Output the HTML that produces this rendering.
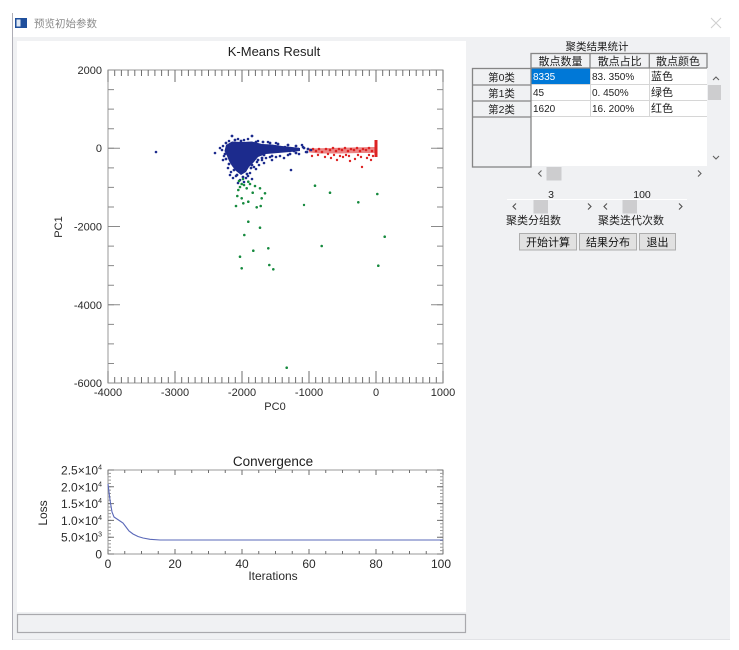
<!DOCTYPE html>
<html><head><meta charset="utf-8">
<style>
html,body{margin:0;padding:0;background:#fff;}
body{width:739px;height:650px;overflow:hidden;position:relative;}
svg{position:absolute;left:0;top:0;}
text{font-family:"Liberation Sans","Noto Sans CJK SC",sans-serif;}
</style></head>
<body>
<svg width="739" height="650" viewBox="0 0 739 650" xmlns="http://www.w3.org/2000/svg">
<!-- window chrome -->
<rect x="0" y="0" width="739" height="650" fill="#fff"/>
<rect x="13" y="37" width="717" height="603" fill="#f0f1f3"/>
<line x1="12.5" y1="13" x2="12.5" y2="640" stroke="#aeaeb6" stroke-width="1"/>
<line x1="13" y1="639.5" x2="730" y2="639.5" stroke="#e2e3e6" stroke-width="1"/>
<!-- icon -->
<rect x="15" y="18" width="12" height="10" fill="#1f4f9c"/>
<rect x="16.5" y="19.5" width="4" height="7" fill="#dfe8f5"/>
<text x="34" y="27" font-size="10.5" fill="#8c8c8c">预览初始参数</text>
<path d="M711,18 L721,28 M721,18 L711,28" stroke="#cfcfcf" stroke-width="1"/>

<!-- white plot panel -->
<rect x="17" y="41" width="449" height="571" fill="#fff"/>
<!-- status bar -->
<rect x="17.5" y="614.5" width="448" height="18" fill="#f0f1f3" stroke="#a9a9ad" stroke-width="1.2"/>

<!-- ===== K-Means scatter chart ===== -->
<text x="274" y="56" font-size="13" text-anchor="middle" fill="#1e1e1e">K-Means Result</text>
<rect x="108" y="70" width="335" height="313" fill="none" stroke="#9a9a9a" stroke-width="1"/>
<g stroke="#6e6e6e" fill="none">
<line x1="107.5" y1="73" x2="443.5" y2="73" stroke-width="6" stroke-dasharray="1 5.7"/>
<line x1="107.5" y1="380" x2="443.5" y2="380" stroke-width="6" stroke-dasharray="1 5.7"/>
<line x1="107.5" y1="76" x2="443.5" y2="76" stroke-width="12" stroke-dasharray="1 66"/>
<line x1="107.5" y1="377" x2="443.5" y2="377" stroke-width="12" stroke-dasharray="1 66"/>
</g>
<g stroke="#8a8a8a" fill="none">
<line x1="111" y1="69.5" x2="111" y2="383.5" stroke-width="6" stroke-dasharray="1 18.5625"/>
<line x1="440" y1="69.5" x2="440" y2="383.5" stroke-width="6" stroke-dasharray="1 18.5625"/>
<line x1="114" y1="69.5" x2="114" y2="383.5" stroke-width="12" stroke-dasharray="1 77.25"/>
<line x1="437" y1="69.5" x2="437" y2="383.5" stroke-width="12" stroke-dasharray="1 77.25"/>
</g>
<g font-size="11" fill="#2a2a2a" text-anchor="end">
<text x="102" y="74">2000</text>
<text x="102" y="152">0</text>
<text x="102" y="230.5">-2000</text>
<text x="102" y="309">-4000</text>
<text x="102" y="387">-6000</text>
</g>
<g font-size="11" fill="#2a2a2a" text-anchor="middle">
<text x="108" y="396">-4000</text>
<text x="175" y="396">-3000</text>
<text x="242" y="396">-2000</text>
<text x="309" y="396">-1000</text>
<text x="376" y="396">0</text>
<text x="443" y="396">1000</text>
<text x="275" y="410">PC0</text>
<text x="0" y="0" transform="translate(62,227) rotate(-90)">PC1</text>
</g>

<!-- red cluster -->
<g fill="#dd2222">
<path d="M309,148.5 L330,148 L350,147.5 L372,147 L377,147 L377,153 L360,153 L340,153.5 L320,153.5 L309,152.5 Z" opacity="0.55"/>
<rect x="374.5" y="140" width="3" height="17"/>
<circle cx="310" cy="150" r="1.3"/><circle cx="313" cy="149" r="1.3"/><circle cx="316" cy="151" r="1.3"/>
<circle cx="319" cy="149" r="1.3"/><circle cx="322" cy="152" r="1.3"/><circle cx="326" cy="149" r="1.3"/>
<circle cx="330" cy="150" r="1.3"/><circle cx="333" cy="148" r="1.3"/><circle cx="336" cy="151" r="1.3"/>
<circle cx="339" cy="149" r="1.3"/><circle cx="342" cy="150" r="1.3"/><circle cx="345" cy="148" r="1.3"/>
<circle cx="348" cy="151" r="1.3"/><circle cx="351" cy="149" r="1.3"/><circle cx="354" cy="150" r="1.3"/>
<circle cx="357" cy="148" r="1.3"/><circle cx="360" cy="151" r="1.3"/><circle cx="363" cy="149" r="1.3"/>
<circle cx="366" cy="150" r="1.3"/><circle cx="369" cy="148" r="1.3"/><circle cx="372" cy="151" r="1.3"/>
<circle cx="312" cy="156" r="1.2"/><circle cx="318" cy="155" r="1.2"/><circle cx="325" cy="157" r="1.2"/>
<circle cx="331" cy="158" r="1.2"/><circle cx="337" cy="160" r="1.2"/><circle cx="343" cy="157" r="1.2"/>
<circle cx="349" cy="156" r="1.2"/><circle cx="355" cy="159" r="1.2"/><circle cx="361" cy="157" r="1.2"/>
<circle cx="362" cy="167" r="1.2"/><circle cx="367" cy="158" r="1.2"/><circle cx="371" cy="160" r="1.2"/>
<circle cx="373" cy="156" r="1.2"/><circle cx="350" cy="161" r="1.2"/><circle cx="340" cy="156" r="1.2"/>
<circle cx="328" cy="154" r="1.2"/><circle cx="346" cy="155" r="1.2"/><circle cx="358" cy="155" r="1.2"/>
<circle cx="369" cy="155" r="1.2"/><circle cx="334" cy="155" r="1.2"/>
</g>
<!-- blue cluster -->
<g fill="#1c2b8d">
<path d="M226,145 L232,141.5 L242,142 L252,141.5 L262,144 L272,144.5 L282,146 L292,147 L300,148 L300,151 L290,152 L278,153 L266,154 L258,157 L254,162 L249,167 L246,172 L241,175 L236,171 L232,166 L229,161 L227,156 L224.5,151 Z"/>
<circle cx="232" cy="136" r="1.4"/><circle cx="252" cy="136" r="1.4"/><circle cx="238" cy="139" r="1.3"/>
<circle cx="244" cy="140" r="1.3"/><circle cx="229" cy="141" r="1.3"/><circle cx="258" cy="141" r="1.3"/>
<circle cx="248" cy="139" r="1.3"/><circle cx="215" cy="153" r="1.3"/><circle cx="156" cy="152" r="1.3"/>
<circle cx="222" cy="150" r="1.3"/><circle cx="223" cy="146" r="1.3"/><circle cx="224" cy="156" r="1.3"/>
<circle cx="223" cy="160" r="1.3"/><circle cx="228" cy="168" r="1.3"/><circle cx="231" cy="172" r="1.3"/>
<circle cx="236" cy="176" r="1.3"/><circle cx="240" cy="180" r="1.3"/><circle cx="244" cy="182" r="1.3"/>
<circle cx="238" cy="183" r="1.3"/><circle cx="246" cy="178" r="1.3"/><circle cx="250" cy="173" r="1.3"/>
<circle cx="254" cy="167" r="1.3"/><circle cx="257" cy="162" r="1.3"/><circle cx="262" cy="160" r="1.3"/>
<circle cx="266" cy="158" r="1.3"/><circle cx="270" cy="157" r="1.3"/><circle cx="256" cy="169" r="1.3"/>
<circle cx="248" cy="176" r="1.3"/><circle cx="233" cy="178" r="1.3"/><circle cx="264" cy="163" r="1.3"/>
<circle cx="272" cy="160" r="1.3"/><circle cx="291" cy="170" r="1.3"/><circle cx="285" cy="147" r="1.3"/>
<circle cx="290" cy="149" r="1.3"/><circle cx="303" cy="147" r="1.3"/><circle cx="306" cy="152" r="1.3"/>
<circle cx="299" cy="154" r="1.3"/><circle cx="280" cy="156" r="1.3"/><circle cx="284" cy="158" r="1.3"/>
<circle cx="288" cy="155" r="1.3"/><circle cx="302" cy="145" r="1.3"/><circle cx="276" cy="157" r="1.3"/>
<circle cx="268" cy="142" r="1.3"/><circle cx="276" cy="143" r="1.3"/>
<circle cx="226" cy="143" r="1.4"/><circle cx="235" cy="140" r="1.4"/><circle cx="241" cy="141" r="1.4"/>
<circle cx="256" cy="142" r="1.4"/><circle cx="263" cy="142" r="1.4"/><circle cx="270" cy="143" r="1.4"/>
<circle cx="278" cy="144" r="1.4"/><circle cx="288" cy="145" r="1.4"/><circle cx="296" cy="146" r="1.4"/>
<circle cx="304" cy="148" r="1.4"/><circle cx="308" cy="149" r="1.4"/><circle cx="307" cy="152" r="1.4"/>
<circle cx="296" cy="153" r="1.4"/><circle cx="290" cy="154" r="1.4"/><circle cx="272" cy="156" r="1.4"/>
<circle cx="262" cy="158" r="1.4"/><circle cx="258" cy="160" r="1.4"/><circle cx="252" cy="165" r="1.4"/>
<circle cx="251" cy="168" r="1.4"/><circle cx="247" cy="174" r="1.4"/><circle cx="243" cy="177" r="1.4"/>
<circle cx="237" cy="175" r="1.4"/><circle cx="234" cy="170" r="1.4"/><circle cx="229" cy="164" r="1.4"/>
<circle cx="226" cy="159" r="1.4"/><circle cx="225" cy="154" r="1.4"/><circle cx="220" cy="148" r="1.3"/>
<circle cx="264" cy="155" r="1.4"/><circle cx="286" cy="150" r="1.4"/><circle cx="298" cy="149" r="1.4"/>
<circle cx="294" cy="151" r="1.4"/><circle cx="311" cy="150" r="1.3"/><circle cx="227" cy="148" r="1.4"/>
<circle cx="230" cy="175" r="1.3"/><circle cx="252" cy="179" r="1.3"/><circle cx="259" cy="165" r="1.3"/>
<circle cx="245" cy="170" r="1.4"/>
</g>
<!-- green cluster -->
<g fill="#168a3e">
<circle cx="241.7" cy="184" r="1.3"/><circle cx="248.3" cy="181.7" r="1.3"/><circle cx="244" cy="185" r="1.3"/>
<circle cx="238.3" cy="190" r="1.3"/><circle cx="246.7" cy="188.3" r="1.3"/><circle cx="252.7" cy="192.7" r="1.3"/>
<circle cx="260" cy="188.3" r="1.3"/><circle cx="265" cy="193.3" r="1.3"/><circle cx="237.3" cy="196" r="1.3"/>
<circle cx="241.7" cy="198.3" r="1.3"/><circle cx="248.3" cy="201.7" r="1.3"/><circle cx="261.7" cy="198.3" r="1.3"/>
<circle cx="243.3" cy="203.3" r="1.3"/><circle cx="236" cy="206" r="1.3"/><circle cx="256.7" cy="207.3" r="1.3"/>
<circle cx="260.7" cy="206" r="1.3"/><circle cx="315" cy="185.7" r="1.3"/><circle cx="330" cy="192.7" r="1.3"/>
<circle cx="358.3" cy="202.3" r="1.3"/><circle cx="377.3" cy="194" r="1.3"/><circle cx="304" cy="205" r="1.2"/>
<circle cx="248.3" cy="221.7" r="1.3"/><circle cx="260" cy="227.7" r="1.3"/><circle cx="244.3" cy="235" r="1.3"/>
<circle cx="384.7" cy="236.7" r="1.3"/><circle cx="268.3" cy="248.3" r="1.3"/><circle cx="253.3" cy="250.7" r="1.3"/>
<circle cx="321.7" cy="246" r="1.3"/><circle cx="240" cy="256.7" r="1.3"/><circle cx="269.3" cy="265" r="1.3"/>
<circle cx="241.7" cy="268.3" r="1.3"/><circle cx="273.3" cy="269.3" r="1.3"/><circle cx="378.3" cy="265.7" r="1.3"/>
<circle cx="286.7" cy="367.7" r="1.3"/><circle cx="239" cy="181" r="1.3"/><circle cx="243" cy="179" r="1.3"/>
<circle cx="250" cy="184" r="1.3"/><circle cx="240" cy="187" r="1.3"/><circle cx="255" cy="186" r="1.3"/>
</g>

<!-- ===== Convergence chart ===== -->
<text x="273" y="466" font-size="13.5" text-anchor="middle" fill="#1e1e1e">Convergence</text>
<rect x="108" y="470" width="335" height="84" fill="none" stroke="#9a9a9a" stroke-width="1"/>
<g stroke="#6e6e6e" fill="none">
<line x1="107.5" y1="471.5" x2="443.5" y2="471.5" stroke-width="3" stroke-dasharray="1 15.75"/>
<line x1="107.5" y1="552.5" x2="443.5" y2="552.5" stroke-width="3" stroke-dasharray="1 15.75"/>
<line x1="107.5" y1="472.5" x2="443.5" y2="472.5" stroke-width="5" stroke-dasharray="1 66"/>
<line x1="107.5" y1="551.5" x2="443.5" y2="551.5" stroke-width="5" stroke-dasharray="1 66"/>
<line x1="109.5" y1="469.5" x2="109.5" y2="554.5" stroke-width="3" stroke-dasharray="1 2.36" stroke="#9a9a9a"/>
<line x1="441.5" y1="469.5" x2="441.5" y2="554.5" stroke-width="3" stroke-dasharray="1 2.36" stroke="#9a9a9a"/>
<line x1="111" y1="469.5" x2="111" y2="554.5" stroke-width="6" stroke-dasharray="1 15.8"/>
<line x1="440" y1="469.5" x2="440" y2="554.5" stroke-width="6" stroke-dasharray="1 15.8"/>
</g>
<path d="M108,484 L110,500 L112,512 L114,517 L117,519 L120,521 L123,523 L126,527 L129,531 L133,534 L138,536.5 L143,538 L150,539.3 L160,540 L443,540" fill="none" stroke="#5a68b8" stroke-width="1.1"/>
<g font-size="12" fill="#2a2a2a" text-anchor="end">
<text x="102" y="474.5">2.5×10<tspan dy="-5" font-size="7">4</tspan></text>
<text x="102" y="491.3">2.0×10<tspan dy="-5" font-size="7">4</tspan></text>
<text x="102" y="508.1">1.5×10<tspan dy="-5" font-size="7">4</tspan></text>
<text x="102" y="524.9">1.0×10<tspan dy="-5" font-size="7">4</tspan></text>
<text x="102" y="541.7">5.0×10<tspan dy="-5" font-size="7">3</tspan></text>
<text x="102" y="558.5">0</text>
</g>
<g font-size="12" fill="#2a2a2a" text-anchor="middle">
<text x="108" y="568">0</text>
<text x="175" y="568">20</text>
<text x="242" y="568">40</text>
<text x="309" y="568">60</text>
<text x="376" y="568">80</text>
<text x="441" y="568">100</text>
<text x="273" y="580">Iterations</text>
<text x="0" y="0" transform="translate(47,513) rotate(-90)">Loss</text>
</g>

<!-- ===== Right panel ===== -->
<text x="597" y="50" font-size="10.5" text-anchor="middle" fill="#1e1e1e">聚类结果统计</text>
<!-- data area -->
<rect x="531" y="68" width="176" height="98" fill="#fff"/>
<rect x="531" y="68" width="59" height="16.5" fill="#0078d7"/>
<g stroke="#d6d6d6" stroke-width="1">
<line x1="531" y1="84.5" x2="707" y2="84.5"/>
<line x1="531" y1="100.5" x2="707" y2="100.5"/>
<line x1="531" y1="116.5" x2="707" y2="116.5"/>
<line x1="590.5" y1="68" x2="590.5" y2="117"/>
<line x1="649.5" y1="68" x2="649.5" y2="117"/>
</g>
<!-- header -->
<rect x="531" y="53.5" width="176" height="14.5" fill="#f0f1f3" stroke="#858585" stroke-width="1.3"/>
<line x1="590" y1="53.5" x2="590" y2="68" stroke="#858585" stroke-width="1.3"/>
<line x1="649.3" y1="53.5" x2="649.3" y2="68" stroke="#858585" stroke-width="1.3"/>
<g font-size="11" fill="#222" text-anchor="middle">
<text x="560.5" y="65">散点数量</text>
<text x="619.7" y="65">散点占比</text>
<text x="678" y="65">散点颜色</text>
</g>
<!-- row header -->
<rect x="472.5" y="68.5" width="58.5" height="98.5" fill="#f0f1f3" stroke="#858585" stroke-width="1.3"/>
<g stroke="#858585" stroke-width="1.3">
<line x1="472.5" y1="85" x2="531" y2="85"/>
<line x1="472.5" y1="101" x2="531" y2="101"/>
<line x1="472.5" y1="117" x2="531" y2="117"/>
</g>
<g font-size="10.5" fill="#222" text-anchor="middle">
<text x="501.5" y="81">第0类</text>
<text x="501.5" y="97">第1类</text>
<text x="501.5" y="113">第2类</text>
</g>
<g font-size="10" fill="#222">
<text x="533" y="80" fill="#fff">8335</text>
<text x="592" y="80">83. 350%</text>
<text x="651" y="80" font-size="11">蓝色</text>
<text x="533" y="96">45</text>
<text x="592" y="96">0. 450%</text>
<text x="651" y="96" font-size="11">绿色</text>
<text x="533" y="112">1620</text>
<text x="592" y="112">16. 200%</text>
<text x="651" y="112" font-size="11">红色</text>
</g>
<!-- vertical scrollbar -->
<rect x="707" y="68" width="15" height="98" fill="#f0f1f3"/>
<rect x="708" y="85" width="13" height="15" fill="#cdcdcf"/>
<polyline points="713,80 716,77 719,80" fill="none" stroke="#606060" stroke-width="1.1"/>
<polyline points="713,156 716,159 719,156" fill="none" stroke="#606060" stroke-width="1.1"/>
<!-- horizontal scrollbar -->
<rect x="546.5" y="167" width="15" height="13.5" fill="#cdcdcf"/>
<polyline points="541.5,170.5 538.5,173.5 541.5,176.5" fill="none" stroke="#606060" stroke-width="1.1"/>
<polyline points="698,170.5 701,173.5 698,176.5" fill="none" stroke="#606060" stroke-width="1.1"/>

<!-- sliders -->
<g font-size="10.5" fill="#222" text-anchor="middle">
<text x="551" y="198">3</text>
<text x="642" y="198">100</text>
</g>
<line x1="507" y1="199.5" x2="687" y2="199.5" stroke="#ffffff" stroke-width="1"/>
<rect x="533.5" y="200" width="14.5" height="13.5" fill="#cdcdcf"/>
<rect x="622.5" y="200" width="14.5" height="13.5" fill="#cdcdcf"/>
<g fill="none" stroke="#505050" stroke-width="1.1">
<polyline points="516,203.5 513,206.5 516,209.5"/>
<polyline points="588,203.5 591,206.5 588,209.5"/>
<polyline points="607,203.5 604,206.5 607,209.5"/>
<polyline points="679,203.5 682,206.5 679,209.5"/>
</g>
<g font-size="11" fill="#222">
<text x="506" y="224">聚类分组数</text>
<text x="598" y="224">聚类迭代次数</text>
</g>
<!-- buttons -->
<g fill="#e1e1e1" stroke="#adadad" stroke-width="1">
<rect x="519.5" y="233.5" width="57" height="16.5"/>
<rect x="579.5" y="233.5" width="57" height="16.5"/>
<rect x="639.5" y="233.5" width="36" height="16.5"/>
</g>
<g font-size="11" fill="#111" text-anchor="middle">
<text x="548" y="246">开始计算</text>
<text x="608" y="246">结果分布</text>
<text x="657.5" y="246">退出</text>
</g>
</svg>
</body></html>
